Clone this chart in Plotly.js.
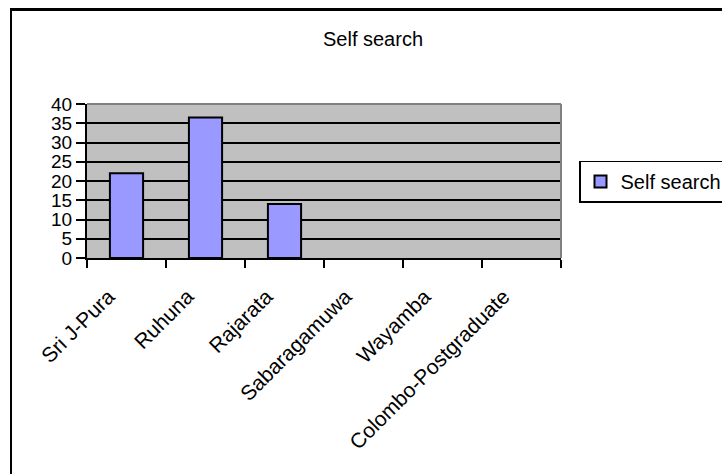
<!DOCTYPE html>
<html>
<head>
<meta charset="utf-8">
<script src="https://cdn.plot.ly/plotly-3.0.1.min.js"></script>
<style>
  html, body { margin: 0; padding: 0; background: #fff; }
  #wrap { position: relative; width: 722px; height: 474px; overflow: hidden; }
  #chart { width: 722px; height: 474px; }
  #frame { position: absolute; left: 10px; top: 8px; width: 800px; height: 600px;
           border-left: 2px solid #000; border-top: 3px solid #000; pointer-events: none; }
</style>
</head>
<body>
<div id="wrap">
  <div id="chart"></div>
  <div id="frame"></div>
</div>
<script>
const categories = ["Sri J-Pura", "Ruhuna", "Rajarata", "Sabaragamuwa", "Wayamba", "Colombo-Postgraduate"];
const selfSearch = [22, 36.5, 14, 0, 0, 0];
const seriesName = "Self search";
const chartTitle = "Self search";
const yTicks = [0, 5, 10, 15, 20, 25, 30, 35, 40];

const FONT = "Liberation Sans, Arial, sans-serif";

const trace = {
  type: "bar",
  x: categories,
  y: selfSearch,
  name: seriesName,
  width: 0.42,
  marker: {
    color: "#9999FF",
    line: { color: "#000000", width: selfSearch.map(v => (v > 0 ? 2 : 0)) }
  },
  showlegend: true
};

const layout = {
  width: 722,
  height: 474,
  margin: { l: 87, r: 161, t: 104, b: 216 },
  paper_bgcolor: "#ffffff",
  plot_bgcolor: "#C0C0C0",
  font: { family: FONT, color: "#000000" },
  title: {
    text: chartTitle,
    font: { family: FONT, size: 20, color: "#000000" },
    x: 373 / 722, xanchor: "center", xref: "container",
    y: 1 - 39 / 474, yanchor: "middle", yref: "container"
  },
  bargap: 0,
  xaxis: {
    type: "category",
    tickson: "boundaries",
    ticks: "outside",
    ticklen: 8,
    tickwidth: 2,
    tickcolor: "#000000",
    showline: true,
    linecolor: "#000000",
    linewidth: 2,
    showgrid: false,
    tickangle: -45,
    ticklabelstandoff: 16,
    ticklabelshift: -18,
    tickfont: { family: FONT, size: 21, color: "#000000" },
    fixedrange: true
  },
  yaxis: {
    range: [0, 40],
    tickvals: yTicks,
    ticktext: yTicks.map(String),
    ticks: "outside",
    ticklen: 9,
    tickwidth: 2,
    tickcolor: "#000000",
    showline: true,
    linecolor: "#000000",
    linewidth: 2,
    showgrid: true,
    gridcolor: "#000000",
    gridwidth: 2,
    zeroline: false,
    tickfont: { family: FONT, size: 19, color: "#000000" },
    fixedrange: true
  },
  showlegend: true,
  legend: {
    x: 579 / 722, xref: "container", xanchor: "left",
    y: 1 - 181.5 / 474, yref: "container", yanchor: "middle",
    bgcolor: "#ffffff",
    bordercolor: "#000000",
    borderwidth: 1.5,
    itemwidth: 30,
    font: { family: FONT, size: 20, color: "#000000" }
  },
  shapes: [
    { type: "line", xref: "paper", yref: "paper", x0: 0, x1: 1, y0: 1, y1: 1,
      line: { color: "#808080", width: 2 }, layer: "above" },
    { type: "line", xref: "paper", yref: "paper", x0: 1, x1: 1, y0: 0, y1: 1,
      line: { color: "#808080", width: 2 }, layer: "above" }
  ]
};

Plotly.newPlot("chart", [trace], layout, { displayModeBar: false, staticPlot: true });
</script>
</body>
</html>
